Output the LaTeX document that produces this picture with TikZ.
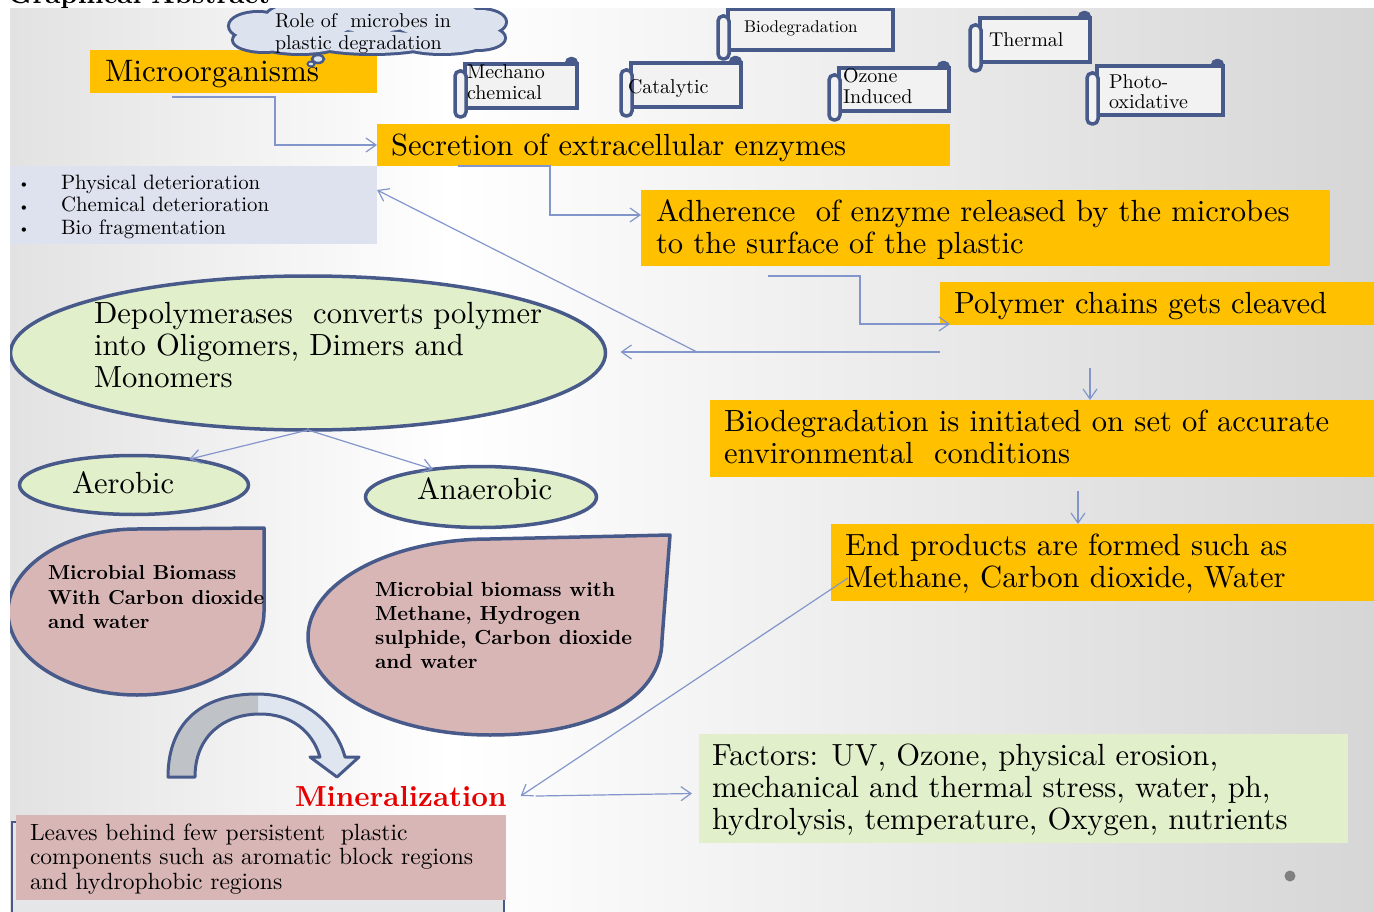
\documentclass[tikz,border=0pt]{standalone}
\usepackage{fontspec}
\setmainfont{lmroman10-regular.otf}[BoldFont=lmroman10-bold.otf]
\usetikzlibrary{arrows.meta,calc,shapes.geometric}
\definecolor{org}{HTML}{FFC000}
\definecolor{grn}{HTML}{E2EFCB}
\definecolor{pnk}{HTML}{D9B6B6}
\definecolor{lav}{HTML}{DEE2EF}
\definecolor{dk}{HTML}{475A8A}
\definecolor{cl}{HTML}{8396CB}
\definecolor{scrollfill}{HTML}{F2F2F3}
\definecolor{cloudfill}{HTML}{DDE3EE}
\definecolor{bgL}{HTML}{E2E2E2}
\definecolor{bgR}{HTML}{D6D6D6}
\definecolor{arrgray}{HTML}{BFC3C8}
\definecolor{arrlight}{HTML}{E0E6F0}
\definecolor{minred}{HTML}{E60000}
\definecolor{leavesbg}{HTML}{E4E6E8}
\definecolor{dotgray}{HTML}{808080}
\newcommand\fsz[2]{\fontsize{#1}{#2}\selectfont}
\newcommand\fl{\rule{0pt}{0.8em}}
\newcommand\scrollshape[4]{%
  \filldraw[draw=dk, fill=dk, line width=2pt, rounded corners=4.5] (#3-11,#2) rectangle (#3,#2+12);
  \filldraw[scroll] (#1+10,#2+6) rectangle (#3,#4-5);
  \filldraw[scroll, rounded corners=5] (#1,#2+13) rectangle (#1+11,#4+4);
}
\newcommand\cloudlobes{%
  (258,26) ellipse (28 and 13)
  (264,40) ellipse (30 and 11)
  (310,20) ellipse (45 and 18)
  (372,16) ellipse (52 and 16)
  (437,19) ellipse (45 and 18)
  (480,22) ellipse (25 and 12)
  (478,38) ellipse (26 and 11)
  (300,41) ellipse (45 and 12)
  (372,42) ellipse (62 and 11)
  (442,41) ellipse (45 and 12)
}
\tikzset{
  box/.style={anchor=north west, inner sep=0, outer sep=0},
  txt/.style={anchor=north west, inner sep=0, outer sep=0, align=left},
  bigt/.style={font=\fsz{30.6}{32}},
  midt/.style={font=\fsz{20}{21}},
  conn/.style={draw=cl, line width=1.2pt, -{Straight Barb[length=10pt,width=14pt]}},
  scroll/.style={draw=dk, fill=scrollfill, line width=3.5pt},
  blob/.style={draw=dk, line width=3.5pt},
}
\begin{document}
\begin{tikzpicture}[x=1pt,y=-1pt]
\useasboundingbox (0,0) rectangle (1374,912);
\node[anchor=base west, inner sep=0, font=\bfseries\fsz{27}{30}] (title) at (8,4) {Graphical Abstract};
\fill[left color=bgL, right color=white] (10,9) rectangle (450,912);
\fill[left color=white, right color=bgR] (450,9) rectangle (1374,912);
\begin{scope}
\clip (10,9) rectangle (1374,912);
% Microorganisms
\node[box, fill=org, minimum width=287, minimum height=43] (micro) at (90,50) {};
\node[txt, font=\fsz{31}{32}] (microT) at (105,57) {\fl Microorganisms};
% cloud
\filldraw[draw=dk, fill=cloudfill, line width=6pt] \cloudlobes;
\fill[cloudfill] \cloudlobes;
\filldraw[draw=dk, fill=cloudfill, line width=2.5pt] (318,59) ellipse (6 and 4);
\filldraw[draw=dk, fill=cloudfill, line width=2pt] (311,64) ellipse (3.5 and 2.5);
\node[txt, font=\fsz{20}{22}] (cloudT) at (275,12) {\fl Role of\ \ microbes in\\plastic degradation};
% scrolls
\scrollshape{455}{58}{577}{113}
\node[txt, midt] (mechT) at (467,63) {\fl Mechano\\chemical};
\scrollshape{621}{57}{741}{112}
\node[txt, midt] (catT) at (628,78) {\fl Catalytic};
\scrollshape{718}{3}{893}{55}
\node[txt, font=\fsz{17}{19}] (biodT) at (744,19.4) {\fl Biodegradation};
\scrollshape{829}{62}{949}{116}
\node[txt, midt] (ozT) at (843,67) {\fl Ozone\\Induced};
\scrollshape{970}{12}{1090}{67}
\node[txt, midt] (thT) at (989,31) {\fl Thermal};
\scrollshape{1087}{60}{1223}{120}
\node[txt, font=\fsz{20}{20}] (phT) at (1109,73) {\fl Photo-\\oxidative};
% secretion
\node[box, fill=org, minimum width=573, minimum height=42] (sec) at (377,124) {};
\node[txt, bigt] (secT) at (391,131.5) {\fl Secretion of extracellular enzymes};
% bullets
\node[box, fill=lav, minimum width=367, minimum height=78] (bul) at (10,166) {};
\node[txt, font=\fsz{15}{22.5}] (bulB) at (18,177) {\fl\textbullet\\\textbullet\\\textbullet};
\node[txt, font=\fsz{20.8}{22.5}] (bulT) at (61,172.4) {\fl Physical deterioration\\Chemical deterioration\\Bio fragmentation};
% adherence
\node[box, fill=org, minimum width=689, minimum height=76] (adh) at (641,190) {};
\node[txt, bigt] (adhT) at (656,197.5) {\fl Adherence\ \ of enzyme released by the microbes\\to the surface of the plastic};
% polymer
\node[box, fill=org, minimum width=434, minimum height=43] (poly) at (940,282) {};
\node[txt, bigt] (polyT) at (954,289.5) {\fl Polymer chains gets cleaved};
% depolymerases
\node[ellipse, draw=dk, fill=grn, line width=3.5pt, minimum width=595, minimum height=154, inner sep=0, outer sep=0] (dep) at (308,353) {};
\node[txt, bigt] (depT) at (94,299.5) {\fl Depolymerases\ \ converts polymer\\into Oligomers, Dimers and\\Monomers};
% biodegradation initiated
\node[box, fill=org, minimum width=664, minimum height=77] (bio) at (710,400) {};
\node[txt, bigt] (bioT) at (724,407.5) {\fl Biodegradation is initiated on set of accurate\\environmental\ \ conditions};
% end products
\node[box, fill=org, minimum width=543, minimum height=77] (endb) at (831,524) {};
\node[txt, bigt] (endT) at (845,531.5) {\fl End products are formed such as\\Methane, Carbon dioxide, Water};
% aerobic / anaerobic
\node[ellipse, draw=dk, fill=grn, line width=3.5pt, minimum width=229, minimum height=59, inner sep=0, outer sep=0] (aer) at (134,485) {};
\node[txt, bigt] (aerT) at (72,469.5) {\fl Aerobic};
\node[ellipse, draw=dk, fill=grn, line width=3.5pt, minimum width=231, minimum height=61, inner sep=0, outer sep=0] (anaer) at (481,497) {};
\node[txt, bigt] (anaerT) at (417,475.5) {\fl Anaerobic};
% teardrops
\filldraw[blob, fill=pnk, line join=round] (264,528) -- (137,529) .. controls (67,529) and (8,566) .. (8,612) .. controls (8,658) and (67,695) .. (137,695) .. controls (207,695) and (264,658) .. (264,612) -- cycle;
\node[txt, font=\bfseries\fsz{20.2}{24.5}] (tearL) at (48,563.8) {\fl Microbial Biomass\\With Carbon dioxide\\and water};
\filldraw[blob, fill=pnk, line join=round] (670,535) -- (490,539) .. controls (390,539) and (308,583) .. (308,637) .. controls (308,691) and (390,735) .. (490,735) .. controls (590,735) and (662,700) .. (662,640) -- cycle;
\node[txt, font=\bfseries\fsz{20.4}{24.3}] (tearR) at (375,579.7) {\fl Microbial biomass with\\Methane, Hydrogen\\sulphide, Carbon dioxide\\and water};
% curved arrow
\fill[arrlight] (168,777) .. controls (168,720) and (205,694) .. (257,694) .. controls (300,694) and (335,720) .. (345,757) -- (359,757) -- (337,777) -- (310,757) -- (320,757) .. controls (312,730) and (290,714) .. (260,714) .. controls (225,714) and (195,735) .. (195,777) -- cycle;
\begin{scope}
\clip (150,680) rectangle (258,790);
\fill[arrgray] (168,777) .. controls (168,720) and (205,694) .. (257,694) .. controls (300,694) and (335,720) .. (345,757) -- (359,757) -- (337,777) -- (310,757) -- (320,757) .. controls (312,730) and (290,714) .. (260,714) .. controls (225,714) and (195,735) .. (195,777) -- cycle;
\end{scope}
\draw[dk, line width=3pt, line join=round] (168,777) .. controls (168,720) and (205,694) .. (257,694) .. controls (300,694) and (335,720) .. (345,757) -- (359,757) -- (337,777) -- (310,757) -- (320,757) .. controls (312,730) and (290,714) .. (260,714) .. controls (225,714) and (195,735) .. (195,777) -- cycle;
% mineralization
\node[anchor=base west, inner sep=0, outer sep=0, font=\bfseries\fsz{29}{30}, text=minred] (minr) at (295,806) {Mineralization};
% leaves
\filldraw[fill=leavesbg, draw=dk, line width=2pt] (12,822) rectangle (504,930);
\node[box, fill=pnk, minimum width=490, minimum height=85] (leaves) at (16,815) {};
\node[txt, font=\fsz{23.5}{24.5}] (leavesT) at (30,821.2) {\fl Leaves behind few persistent\ \ plastic\\components such as aromatic block regions\\and hydrophobic regions};
% factors
\node[box, fill=grn, minimum width=649, minimum height=109] (fac) at (699,734) {};
\node[txt, bigt] (facT) at (712,741.5) {\fl Factors: UV, Ozone, physical erosion,\\mechanical and thermal stress, water, ph,\\hydrolysis, temperature, Oxygen, nutrients};
% dot
\fill[dotgray] (1290,876) circle (5.5);
% connectors
\draw[conn] ($(micro.south west)+(82,4)$) -- ++(103,0) |- (sec.west);
\draw[conn] ($(sec.south west)+(81,0)$) -- ++(92,0) |- ([yshift=13pt]adh.west);
\draw[conn] ($(adh.south west)+(127,10)$) -- ++(92,0) |- ([xshift=10pt,yshift=1pt]poly.south west);
\coordinate (pstart) at ($(poly.south west)+(0,27)$);
\coordinate (deptip) at ([xshift=15pt]dep.east);
\draw[conn] (pstart) -- (pstart -| deptip);
\coordinate (split) at ($(pstart)+(-243,0)$);
\draw[conn] (split) -- ([yshift=15pt]bul.east);
\draw[conn] (dep.south) -- (aer.25);
\draw[conn] (dep.south) -- (anaer.150);
\draw[conn] ([xshift=48pt,yshift=32pt]bio.north) -- ([xshift=48pt]bio.north);
\draw[conn] ([xshift=36pt,yshift=-14pt]bio.south) -- ([xshift=-24.5pt]endb.north);
\draw[conn] ($(endb.south west)+(17,-23)$) -- ([xshift=14pt]minr.east);
\draw[conn] ([xshift=29pt]minr.east) -- ([xshift=-7pt,yshift=-5pt]fac.west);
\end{scope}
\end{tikzpicture}
\end{document}
